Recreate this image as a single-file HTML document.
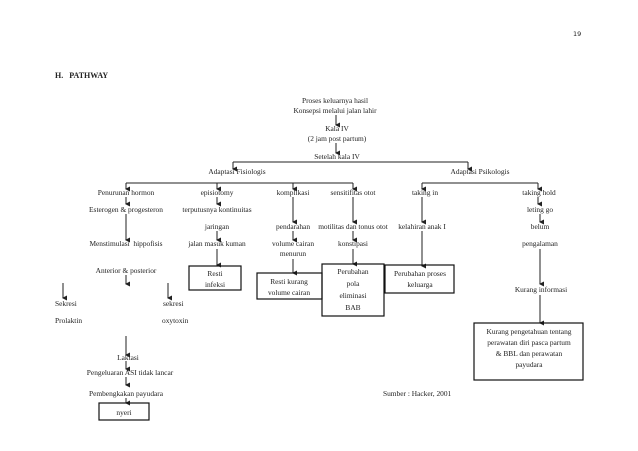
<!DOCTYPE html>
<html><head><meta charset="utf-8"><style>
html,body{margin:0;padding:0;background:#fff;}
svg{display:block;}
text{font-family:"Liberation Serif",serif;font-size:7.4px;fill:#222;}
.m{text-anchor:middle;}
line{stroke:#222;stroke-width:1;}
rect{fill:none;stroke:#111;stroke-width:1.2;}
</style></head><body>
<svg width="638" height="451" viewBox="0 0 638 451" xmlns="http://www.w3.org/2000/svg">
<defs><marker id="a" markerWidth="6" markerHeight="6" refX="3" refY="5" orient="auto" markerUnits="userSpaceOnUse"><path d="M0.5,1 L5.5,1 L3,6 z" fill="#222"/></marker></defs>
<g transform="rotate(0)"></g>
<text x="573" y="36" style="font-family:'DejaVu Sans',sans-serif;font-size:6.5px">19</text>
<text x="55" y="78" style="font-weight:bold;font-size:8px">H.&#160;&#160;&#160;PATHWAY</text>

<text class="m" x="335" y="103">Proses keluarnya hasil</text>
<text class="m" x="335" y="113">Konsepsi melalui jalan lahir</text>
<line x1="336" y1="115" x2="336" y2="125" marker-end="url(#a)"/>
<text class="m" x="337" y="131">Kala IV</text>
<text class="m" x="337" y="141">(2 jam post partum)</text>
<line x1="336" y1="143" x2="336" y2="153" marker-end="url(#a)"/>
<text class="m" x="337" y="159">Setelah kala IV</text>

<line x1="233" y1="162" x2="468" y2="162"/>
<line x1="233" y1="162" x2="233" y2="169" marker-end="url(#a)"/>
<line x1="468" y1="162" x2="468" y2="169" marker-end="url(#a)"/>
<text class="m" x="237" y="174">Adaptasi Fisiologis</text>
<text class="m" x="480" y="174">Adaptasi Psikologis</text>

<line x1="126" y1="183" x2="353" y2="183"/>
<line x1="126" y1="183" x2="126" y2="189" marker-end="url(#a)"/>
<line x1="217" y1="183" x2="217" y2="189" marker-end="url(#a)"/>
<line x1="293" y1="183" x2="293" y2="189" marker-end="url(#a)"/>
<line x1="353" y1="183" x2="353" y2="189" marker-end="url(#a)"/>
<line x1="422" y1="183" x2="538" y2="183"/>
<line x1="422" y1="183" x2="422" y2="189" marker-end="url(#a)"/>
<line x1="538" y1="183" x2="538" y2="189" marker-end="url(#a)"/>

<text class="m" x="126" y="195">Penurunan hormon</text>
<text class="m" x="217" y="195">episiotomy</text>
<text class="m" x="293" y="195">komplikasi</text>
<text class="m" x="353" y="195">sensitifitas otot</text>
<text class="m" x="425" y="195">taking in</text>
<text class="m" x="539" y="195">taking hold</text>

<line x1="126" y1="197" x2="126" y2="204" marker-end="url(#a)"/>
<line x1="217" y1="197" x2="217" y2="204" marker-end="url(#a)"/>
<line x1="293" y1="197" x2="293" y2="222" marker-end="url(#a)"/>
<line x1="353" y1="197" x2="353" y2="222" marker-end="url(#a)"/>
<line x1="422" y1="197" x2="422" y2="222" marker-end="url(#a)"/>
<line x1="538" y1="197" x2="538" y2="204" marker-end="url(#a)"/>

<text class="m" x="126" y="212">Esterogen &amp; progesteron</text>
<text class="m" x="217" y="212">terputusnya kontinuitas</text>
<text class="m" x="540" y="212">leting go</text>

<line x1="126" y1="214" x2="126" y2="240" marker-end="url(#a)"/>
<line x1="540" y1="214" x2="540" y2="222" marker-end="url(#a)"/>

<text class="m" x="217" y="229">jaringan</text>
<text class="m" x="293" y="229">pendarahan</text>
<text class="m" x="353" y="229">motilitas dan tonus otot</text>
<text class="m" x="422" y="229">kelahiran anak I</text>
<text class="m" x="540" y="229">belum</text>

<line x1="217" y1="231" x2="217" y2="240" marker-end="url(#a)"/>
<line x1="293" y1="231" x2="293" y2="240" marker-end="url(#a)"/>
<line x1="353" y1="231" x2="353" y2="240" marker-end="url(#a)"/>
<line x1="422" y1="231" x2="422" y2="266" marker-end="url(#a)"/>

<text class="m" x="126" y="246">Menstimulasi&#160; hippofisis</text>
<text class="m" x="217" y="246">jalan masuk kuman</text>
<text class="m" x="293" y="246">volume cairan</text>
<text class="m" x="293" y="256">menurun</text>
<text class="m" x="353" y="246">konstipasi</text>
<text class="m" x="540" y="246">pengalaman</text>

<line x1="217" y1="249" x2="217" y2="265" marker-end="url(#a)"/>
<line x1="293" y1="259" x2="293" y2="273" marker-end="url(#a)"/>
<line x1="353" y1="249" x2="353" y2="264" marker-end="url(#a)"/>
<line x1="540" y1="249" x2="540" y2="284" marker-end="url(#a)"/>

<rect x="189" y="266" width="52" height="24"/>
<text class="m" x="215" y="276">Resti</text>
<text class="m" x="215" y="287">infeksi</text>
<rect x="257" y="273" width="65" height="26"/>
<text class="m" x="289" y="284">Resti kurang</text>
<text class="m" x="289" y="295">volume cairan</text>
<rect x="322" y="264" width="62" height="52"/>
<text class="m" x="353" y="274">Perubahan</text>
<text class="m" x="353" y="286">pola</text>
<text class="m" x="353" y="298">eliminasi</text>
<text class="m" x="353" y="310">BAB</text>
<rect x="385" y="265" width="69" height="28"/>
<text class="m" x="420" y="276">Perubahan proses</text>
<text class="m" x="420" y="287">keluarga</text>

<text class="m" x="541" y="292">Kurang informasi</text>
<line x1="540" y1="295" x2="540" y2="323" marker-end="url(#a)"/>
<rect x="474" y="323" width="109" height="57"/>
<text class="m" x="529" y="334">Kurang pengetahuan tentang</text>
<text class="m" x="529" y="345">perawatan diri pasca partum</text>
<text class="m" x="529" y="356">&amp; BBL dan perawatan</text>
<text class="m" x="529" y="367">payudara</text>

<text class="m" x="126" y="273">Anterior &amp; posterior</text>
<line x1="126" y1="275" x2="126" y2="284" marker-end="url(#a)"/>
<line x1="63" y1="283" x2="63" y2="298" marker-end="url(#a)"/>
<line x1="168" y1="283" x2="168" y2="298" marker-end="url(#a)"/>
<text x="55" y="306">Sekresi</text>
<text x="163" y="306">sekresi</text>
<text x="55" y="323">Prolaktin</text>
<text x="162" y="323">oxytoxin</text>

<line x1="126" y1="336" x2="126" y2="355" marker-end="url(#a)"/>
<text class="m" x="128" y="360">Laktasi</text>
<line x1="126" y1="361" x2="126" y2="369" marker-end="url(#a)"/>
<text class="m" x="130" y="375">Pengeluaran ASI tidak lancar</text>
<line x1="126" y1="377" x2="126" y2="385" marker-end="url(#a)"/>
<text class="m" x="126" y="396">Pembengkakan payudara</text>
<line x1="126" y1="398" x2="126" y2="403" marker-end="url(#a)"/>
<rect x="99" y="403" width="50" height="17"/>
<text class="m" x="124" y="415">nyeri</text>

<text x="383" y="396">Sumber : Hacker, 2001</text>
</svg>
</body></html>
